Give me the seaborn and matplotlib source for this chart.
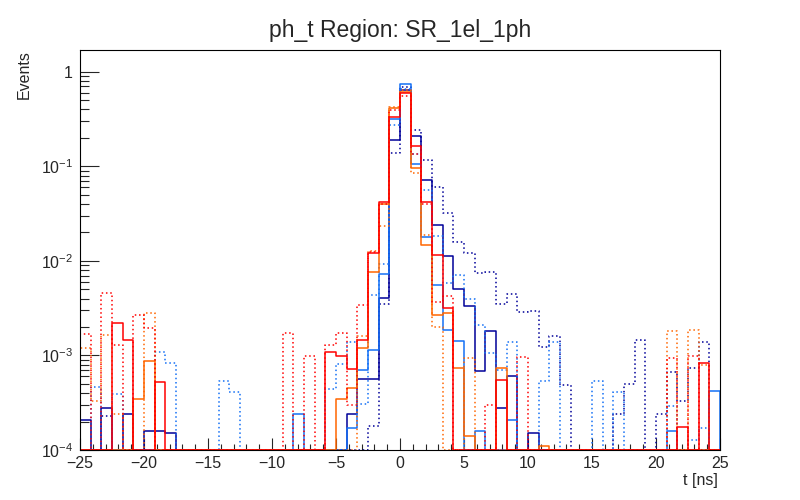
import numpy as np
import matplotlib
matplotlib.use('Agg')
import matplotlib.pyplot as plt
import matplotlib.ticker as mticker
import seaborn as sns

# 60 bins of ph_t between -25 and 25 ns
t_lo, t_hi, n_bins = -25, 25, 60

navy_solid = [
    2.1e-4, 0, 2.8e-4, 0, 2.4e-4, 0, 1.6e-4, 1.6e-4, 1.5e-4, 0,
    0, 0, 0, 0, 0, 0, 0, 0, 0, 0,
    0, 0, 0, 0, 0, 2.4e-4, 5.7e-4, 5.6e-4, 4.1e-3, 0.189,
    0.64, 0.207, 0.0714, 0.0239, 0.0114, 5.1e-3, 3.37e-3, 6.9e-4, 1.8e-3, 2.8e-4,
    6.0e-4, 0, 1.5e-4, 0, 0, 0, 0, 0, 0, 0,
    0, 0, 0, 0, 0, 0, 0, 0, 0, 0,
]
navy_dotted = [
    0, 0, 2.3e-4, 0, 0, 0, 0, 0, 0, 0,
    0, 0, 0, 0, 0, 0, 0, 0, 0, 0,
    0, 0, 0, 0, 0, 0, 0, 1.8e-4, 3.46e-3, 0.137,
    0.684, 0.24, 0.116, 0.0598, 0.0318, 0.0159, 0.012, 7.4e-3, 7.65e-3, 3.46e-3,
    4.5e-3, 2.87e-3, 2.97e-3, 1.23e-3, 1.62e-3, 4.9e-4, 0, 0, 0, 0,
    2.4e-4, 5.0e-4, 1.45e-3, 0, 2.4e-4, 6.7e-4, 3.3e-4, 7.4e-4, 1.39e-3, 0,
]
azure_solid = [
    0, 0, 0, 0, 0, 0, 0, 0, 0, 0,
    0, 0, 0, 0, 0, 0, 0, 0, 0, 0,
    2.4e-4, 0, 0, 0, 0, 1.7e-4, 7.0e-4, 1.13e-3, 7.2e-3, 0.318,
    0.735, 0.106, 0.0177, 5.5e-3, 1.85e-3, 1.41e-3, 0, 1.58e-4, 0, 0,
    2.1e-4, 0, 0, 0, 0, 0, 0, 0, 0, 0,
    0, 0, 0, 0, 0, 1.58e-4, 0, 0, 0, 4.25e-4,
]
azure_dotted = [
    0, 4.6e-4, 0, 3.9e-4, 0, 0, 0, 1.1e-3, 8.3e-4, 0,
    0, 0, 0, 5.4e-4, 4.1e-4, 0, 0, 0, 0, 0,
    0, 0, 0, 4.4e-4, 8.2e-4, 1.4e-3, 3.1e-4, 4.4e-3, 9.2e-3, 0.271,
    0.65, 0.134, 0.0556, 0.0182, 5.9e-3, 7.06e-3, 4.0e-3, 2.09e-3, 1.07e-3, 7.0e-4,
    1.4e-3, 0, 0, 5.4e-4, 1.4e-3, 0, 0, 0, 5.4e-4, 0,
    4.1e-4, 0, 0, 0, 0, 2.95e-4, 0, 1.27e-4, 1.7e-4, 0,
]
orange_solid = [
    0, 0, 0, 0, 0, 3.5e-4, 8.7e-4, 0, 0, 0,
    0, 0, 0, 0, 0, 0, 0, 0, 0, 0,
    0, 0, 0, 0, 3.5e-4, 4.5e-4, 1.2e-3, 7.6e-3, 0.040, 0.413,
    0.61, 0.095, 0.0147, 2.7e-3, 2.84e-3, 7.3e-4, 1.42e-4, 0, 0, 7.3e-4,
    0, 0, 0, 1.1e-4, 0, 0, 0, 0, 0, 0,
    0, 0, 0, 0, 0, 0, 0, 0, 0, 0,
]
orange_dotted = [
    1.2e-3, 3.3e-4, 1.64e-3, 2.4e-4, 0, 0, 2.84e-3, 0, 0, 0,
    0, 0, 0, 0, 0, 0, 0, 0, 0, 0,
    0, 0, 0, 0, 0, 0, 1.6e-3, 0.0126, 0.0233, 0.42,
    0.64, 0.085, 0.0186, 2.0e-3, 0, 0, 9.3e-4, 0, 0, 0,
    0, 0, 0, 0, 0, 0, 0, 0, 0, 0,
    0, 0, 0, 0, 0, 1.83e-3, 0, 1.88e-3, 8.0e-4, 0,
]
red_solid = [
    0, 0, 0, 2.23e-3, 1.47e-3, 0, 0, 5.3e-4, 0, 0,
    0, 0, 0, 0, 0, 0, 0, 0, 0, 0,
    0, 0, 0, 1.1e-3, 9.8e-4, 7.2e-4, 1.47e-3, 0.012, 0.042, 0.329,
    0.59, 0.166, 0.0415, 0.0115, 3.2e-3, 0, 0, 0, 0, 5.5e-4,
    0, 0, 0, 0, 0, 0, 0, 0, 0, 0,
    0, 0, 0, 0, 0, 0, 1.73e-4, 0, 8.4e-4, 0,
]
red_dotted = [
    1.7e-3, 0, 4.6e-3, 1.3e-3, 0, 2.66e-3, 1.97e-3, 0, 0, 0,
    0, 0, 0, 0, 0, 0, 0, 0, 0, 1.73e-3,
    0, 9.8e-4, 0, 1.3e-3, 1.73e-3, 3.0e-4, 3.4e-3, 0.0125, 0.040, 0.394,
    0.56, 0.134, 0.040, 3.7e-3, 4.3e-3, 0, 0, 0, 3.0e-4, 0,
    0, 9.7e-4, 0, 0, 0, 0, 0, 0, 0, 0,
    0, 0, 0, 0, 0, 9.3e-4, 0, 9.8e-4, 0, 0,
]

NAVY = '#000099'
AZURE = '#1470f5'
ORANGE = '#ff6600'
RED = '#ff0000'
DOTS = (0, (1, 1.8))

series = [
    (navy_dotted, NAVY, DOTS),
    (navy_solid, NAVY, '-'),
    (azure_dotted, AZURE, DOTS),
    (azure_solid, AZURE, '-'),
    (orange_dotted, ORANGE, DOTS),
    (orange_solid, ORANGE, '-'),
    (red_dotted, RED, DOTS),
    (red_solid, RED, '-'),
]

y_lo, y_hi = 1e-4, 1.7

sns.set_style('ticks')
plt.rcParams['font.family'] = ['Liberation Sans', 'DejaVu Sans']

fig, ax = plt.subplots(figsize=(8, 5), dpi=100)
fig.subplots_adjust(left=0.1, right=0.9, bottom=0.1, top=0.9)

edges = np.linspace(t_lo, t_hi, n_bins + 1)
ax.set_yscale('log')

for values, color, style in series:
    # empty bins sit on the bottom of the frame, like ROOT does it
    y = [y_lo] + [v if v > 0 else y_lo for v in values] + [y_lo]
    x = [edges[0]] + list(edges[:-1]) + [edges[-1]]
    line_ax = sns.lineplot(x=x, y=y, color=color, linewidth=1.1,
                           drawstyle='steps-post', estimator=None, sort=False, ax=ax)
    line_ax.lines[-1].set_linestyle(style)

ax.set_xlim(t_lo, t_hi)
ax.set_ylim(y_lo, y_hi)

ax.xaxis.set_major_locator(mticker.MultipleLocator(5))
ax.xaxis.set_minor_locator(mticker.MultipleLocator(1))
ax.yaxis.set_major_locator(mticker.LogLocator(base=10, numticks=10))
ax.yaxis.set_minor_locator(mticker.LogLocator(base=10, subs=np.arange(2, 10), numticks=20))
ax.yaxis.set_minor_formatter(mticker.NullFormatter())
ax.yaxis.set_major_formatter(mticker.FuncFormatter(
    lambda v, p: '1' if abs(v - 1) < 1e-9 else r'$\mathregular{10^{%d}}$' % round(np.log10(v))))

ax.tick_params(axis='x', which='major', direction='in', length=8.6, width=0.8,
               labelsize=11.5, pad=4, top=False)
ax.tick_params(axis='x', which='minor', direction='in', length=4.3, width=0.8, top=False)
ax.tick_params(axis='y', which='major', direction='in', length=13.7, width=0.8,
               labelsize=11.5, pad=5, right=False)
ax.tick_params(axis='y', which='minor', direction='in', length=6.8, width=0.8, right=False)
for spine in ax.spines.values():
    spine.set_linewidth(0.8)
    spine.set_color('black')

ax.set_xlabel('')
ax.set_ylabel('')
fig.text(0.5, 1 - 30 / 500, 'ph_t Region: SR_1el_1ph', ha='center', va='center', fontsize=16.5)
fig.text(24 / 800, 1 - 50 / 500, 'Events', rotation=90, ha='center', va='top', fontsize=11.5)
fig.text(718 / 800, 1 - 480 / 500, 't [ns]', ha='right', va='center', fontsize=11.5)

fig.savefig('out.png', dpi=100)
